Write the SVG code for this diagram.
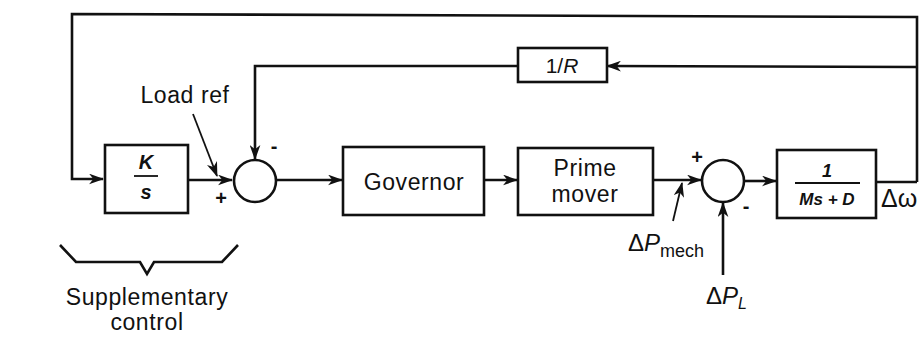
<svg xmlns="http://www.w3.org/2000/svg" width="924" height="338" viewBox="0 0 924 338">
  <style>
    .blk { fill: #fff; stroke: #111; stroke-width: 2.6; }
    .ln { fill: none; stroke: #111; stroke-width: 2.6; }
    .thin { fill: none; stroke: #111; stroke-width: 1.8; }
    text { font-family: "Liberation Sans", "DejaVu Sans", sans-serif; fill: #111; }
    .lbl { font-size: 23px; letter-spacing: 0.6px; }
    .sym { font-style: italic; }
    .sign { font-size: 20px; font-weight: bold; }
  </style>
  <defs>
    <marker id="arr" viewBox="0 0 14 10" refX="13" refY="5" markerWidth="15" markerHeight="11" markerUnits="userSpaceOnUse" orient="auto">
      <path d="M0,0 L14,5 L0,10 L4,5 Z" fill="#111"/>
    </marker>
  </defs>

  <rect width="924" height="338" fill="#fff"/>

  <!-- connectors -->
  <g id="connectors">
    <!-- outer frequency loop to integrator -->
    <polyline class="ln" points="917,182 917,17 72,14 72,179 103,179" marker-end="url(#arr)"/>
    <!-- droop feedback through 1/R -->
    <polyline class="ln" points="917,67 607,66" marker-end="url(#arr)"/>
    <polyline class="ln" points="518,66 255,66 255,159" marker-end="url(#arr)"/>
    <!-- integrator to first summing junction -->
    <line class="ln" x1="188" y1="180" x2="232" y2="180" marker-end="url(#arr)"/>
    <!-- load reference input -->
    <line class="thin" x1="193" y1="114" x2="217" y2="176" marker-end="url(#arr)"/>
    <!-- junction to governor -->
    <line class="ln" x1="277" y1="180" x2="342" y2="180" marker-end="url(#arr)"/>
    <!-- governor to prime mover -->
    <line class="ln" x1="484" y1="180" x2="517" y2="180" marker-end="url(#arr)"/>
    <!-- prime mover to second junction -->
    <line class="ln" x1="653" y1="180" x2="701" y2="180" marker-end="url(#arr)"/>
    <!-- mechanical power marker -->
    <line class="thin" x1="673" y1="221" x2="682" y2="183" marker-end="url(#arr)"/>
    <!-- load disturbance -->
    <line class="ln" x1="723" y1="275" x2="723" y2="203" marker-end="url(#arr)"/>
    <!-- junction to rotor dynamics -->
    <line class="ln" x1="745" y1="181" x2="776" y2="181" marker-end="url(#arr)"/>
    <!-- rotor dynamics output -->
    <line class="ln" x1="876" y1="182" x2="917" y2="182"/>
  </g>

  <!-- supplementary integrator K/s -->
  <g id="integrator">
    <rect class="blk" x="105" y="145" width="83" height="68"/>
    <text x="146" y="169" font-size="20" font-weight="bold" class="sym" text-anchor="middle">K</text>
    <line x1="134" y1="176" x2="158" y2="176" stroke="#111" stroke-width="1.8"/>
    <text x="146" y="199" font-size="20" font-weight="bold" class="sym" text-anchor="middle">s</text>
  </g>

  <!-- first summing junction -->
  <g id="sum1">
    <circle class="blk" cx="255" cy="181" r="21"/>
    <text x="274" y="153" class="sign" text-anchor="middle">-</text>
    <text x="221" y="205" class="sign" text-anchor="middle">+</text>
  </g>

  <!-- load reference label -->
  <g id="loadref">
    <text x="185" y="103" class="lbl" text-anchor="middle">Load ref</text>
  </g>

  <!-- droop gain -->
  <g id="droop">
    <rect class="blk" x="518" y="48" width="89" height="34"/>
    <text x="562" y="73" font-size="21" text-anchor="middle">1/<tspan class="sym">R</tspan></text>
  </g>

  <!-- governor -->
  <g id="governor">
    <rect class="blk" x="343" y="147" width="141" height="68"/>
    <text x="414" y="190" class="lbl" text-anchor="middle">Governor</text>
  </g>

  <!-- prime mover -->
  <g id="primemover">
    <rect class="blk" x="518" y="148" width="135" height="67"/>
    <text x="585" y="176" class="lbl" text-anchor="middle">Prime</text>
    <text x="585" y="202" class="lbl" text-anchor="middle">mover</text>
  </g>

  <!-- second summing junction -->
  <g id="sum2">
    <circle class="blk" cx="723" cy="181" r="21"/>
    <text x="697" y="164" class="sign" text-anchor="middle">+</text>
    <text x="746" y="213" class="sign" text-anchor="middle">-</text>
  </g>

  <!-- mechanical power label -->
  <g id="pmech">
    <text x="628" y="251" font-size="24">Δ<tspan class="sym">P</tspan><tspan font-size="18" dy="6">mech</tspan></text>
  </g>

  <!-- load power label -->
  <g id="pload">
    <text x="706" y="304" font-size="24">Δ<tspan class="sym">P</tspan><tspan font-size="16" dy="5" class="sym">L</tspan></text>
  </g>

  <!-- rotor dynamics 1/(Ms+D) -->
  <g id="rotor">
    <rect class="blk" x="777" y="150" width="99" height="68"/>
    <text x="827" y="177" font-size="18" font-weight="bold" class="sym" text-anchor="middle">1</text>
    <line x1="795" y1="183" x2="860" y2="183" stroke="#111" stroke-width="1.8"/>
    <text x="827" y="205" font-size="17" font-weight="bold" class="sym" text-anchor="middle">Ms + D</text>
  </g>

  <!-- frequency deviation label -->
  <g id="domega">
    <text x="881" y="207" font-size="25">Δω</text>
  </g>

  <!-- brace and caption for supplementary control -->
  <g id="supplementary">
    <path class="ln" d="M60,245 L76,262 L140,262 L147,274 L154,262 L222,262 L238,245" stroke-width="2"/>
    <text x="147" y="305" class="lbl" text-anchor="middle" font-size="24">Supplementary</text>
    <text x="147" y="330" class="lbl" text-anchor="middle" font-size="24">control</text>
  </g>
</svg>
